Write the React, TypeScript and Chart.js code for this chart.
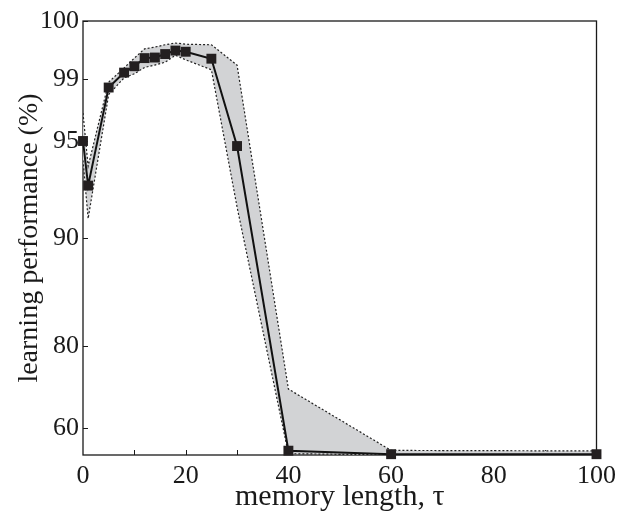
import React, { useEffect, useRef } from "react";
import { Chart, registerables } from "chart.js";

Chart.register(...registerables);

// memory length values (x)
const TAU = [0, 1, 5, 8, 10, 12, 14, 16, 18, 20, 25, 30, 40, 60, 100];
// learning performance (%): mean and band
const MEAN = [95.0, 92.7, 98.45, 99.11, 99.22, 99.36, 99.37, 99.43, 99.49, 99.47, 99.35, 94.74, 51.6, 50.3, 50.3];
const UPPER = [96.8, 93.7, 98.8, 99.19, 99.36, 99.52, 99.55, 99.59, 99.62, 99.6, 99.59, 99.24, 69.5, 51.7, 51.5];
const LOWER = [94.0, 91.0, 98.0, 99.02, 99.09, 99.2, 99.24, 99.29, 99.41, 99.33, 99.16, 91.6, 50.5, 50.0, 50.0];

// y tick labels
const Y_TICKS = [60, 80, 90, 95, 99, 100];
const X_TICKS = [0, 20, 40, 60, 80, 100];
const X_MINOR = [10, 20, 30, 40, 50, 60, 70, 80, 90];

// warped y-axis: breakpoints (percent) and their relative positions on the axis
const WARP_VALUES = [50, 60, 80, 90, 95, 99, 100];
const WARP_POS = [0, 27, 109, 217, 314, 376, 434];

function warp(p: number): number {
  for (let i = 0; i < WARP_VALUES.length - 1; i++) {
    const a = WARP_VALUES[i], b = WARP_VALUES[i + 1];
    if (p <= b || i === WARP_VALUES.length - 2) {
      const t = (p - a) / (b - a);
      return WARP_POS[i] + t * (WARP_POS[i + 1] - WARP_POS[i]);
    }
  }
  return 0;
}

const FONT = "'Liberation Serif', 'Times New Roman', serif";

export default function App() {
  const ref = useRef<HTMLCanvasElement | null>(null);
  useEffect(() => {
    document.body.style.margin = "0";
    const canvas = ref.current!;
    const toPts = (arr: number[]) => TAU.map((x, i) => ({ x, y: warp(arr[i]) }));

    const framePlugin = {
      id: "frame",
      beforeDatasetsDraw(chart: any) {
        const { ctx, chartArea, scales } = chart;
        const { left, right, top, bottom } = chartArea;
        ctx.save();
        ctx.strokeStyle = "#1a1a1a";
        ctx.lineWidth = 1.3;
        ctx.strokeRect(left, top, right - left, bottom - top);
        ctx.lineWidth = 1;
        ctx.beginPath();
        for (const v of X_MINOR) {
          const px = Math.round(scales.x.getPixelForValue(v)) + 0.5;
          ctx.moveTo(px, bottom);
          ctx.lineTo(px, bottom - 5);
        }
        for (const t of Y_TICKS) {
          const py = Math.round(scales.y.getPixelForValue(warp(t))) + 0.5;
          ctx.moveTo(left, py);
          ctx.lineTo(left + 5, py);
        }
        ctx.stroke();
        ctx.restore();
      },
    };

    const chart = new Chart(canvas, {
      type: "line",
      data: {
        datasets: [
          {
            label: "mean",
            data: toPts(MEAN),
            borderColor: "#111",
            borderWidth: 2,
            pointStyle: "rect",
            pointRadius: 7,
            pointBackgroundColor: "#231f20",
            pointBorderWidth: 0,
            fill: false,
            tension: 0,
            clip: false as any,
          },
          {
            label: "lower",
            data: toPts(LOWER),
            borderColor: "#222",
            borderWidth: 1.2,
            borderDash: [2, 2],
            pointRadius: 0,
            fill: false,
            tension: 0,
          },
          {
            label: "upper",
            data: toPts(UPPER),
            borderColor: "#222",
            borderWidth: 1.2,
            borderDash: [2, 2],
            pointRadius: 0,
            backgroundColor: "rgb(210,211,213)",
            fill: 1 as any,
            tension: 0,
          },
        ],
      },
      options: {
        animation: false,
        responsive: false,
        events: [],
        layout: { padding: { left: 0, top: 21, right: 20, bottom: 0 } },
        plugins: { legend: { display: false }, tooltip: { enabled: false } },
        scales: {
          x: {
            type: "linear",
            min: 0,
            max: 100,
            afterFit: (s: any) => {
              s.height = 59;
            },
            afterBuildTicks: (s: any) => {
              s.ticks = X_TICKS.map((v) => ({ value: v }));
            },
            grid: { display: false, drawTicks: false },
            border: { display: false },
            ticks: {
              padding: 6,
              color: "#1a1a1a",
              font: { family: FONT, size: 26 },
              maxRotation: 0,
            },
            title: {
              display: true,
              text: "memory length, τ",
              color: "#1a1a1a",
              font: { family: FONT, size: 30, lineHeight: 1.1 },
              padding: { top: 0, bottom: 0 },
            },
          },
          y: {
            type: "linear",
            min: warp(50),
            max: warp(100),
            afterFit: (s: any) => {
              s.width = 83;
            },
            afterBuildTicks: (s: any) => {
              s.ticks = Y_TICKS.map((v) => ({ value: warp(v) }));
            },
            grid: { display: false, drawTicks: false },
            border: { display: false },
            ticks: {
              padding: 4,
              color: "#1a1a1a",
              font: { family: FONT, size: 26 },
              callback: (value: any) => {
                let best = Y_TICKS[0];
                for (const t of Y_TICKS) {
                  if (Math.abs(warp(t) - value) < Math.abs(warp(best) - value)) best = t;
                }
                return String(best);
              },
            },
            title: {
              display: true,
              text: "learning performance (%)",
              color: "#1a1a1a",
              font: { family: FONT, size: 28 },
              padding: { top: 13, bottom: 0 },
            },
          },
        },
      },
      plugins: [framePlugin],
    });
    return () => chart.destroy();
  }, []);

  return (
    <div style={{ position: "absolute", left: 0, top: 0, width: 622, height: 514 }}>
      <canvas ref={ref} width={622} height={514} style={{ display: "block" }} />
    </div>
  );
}
